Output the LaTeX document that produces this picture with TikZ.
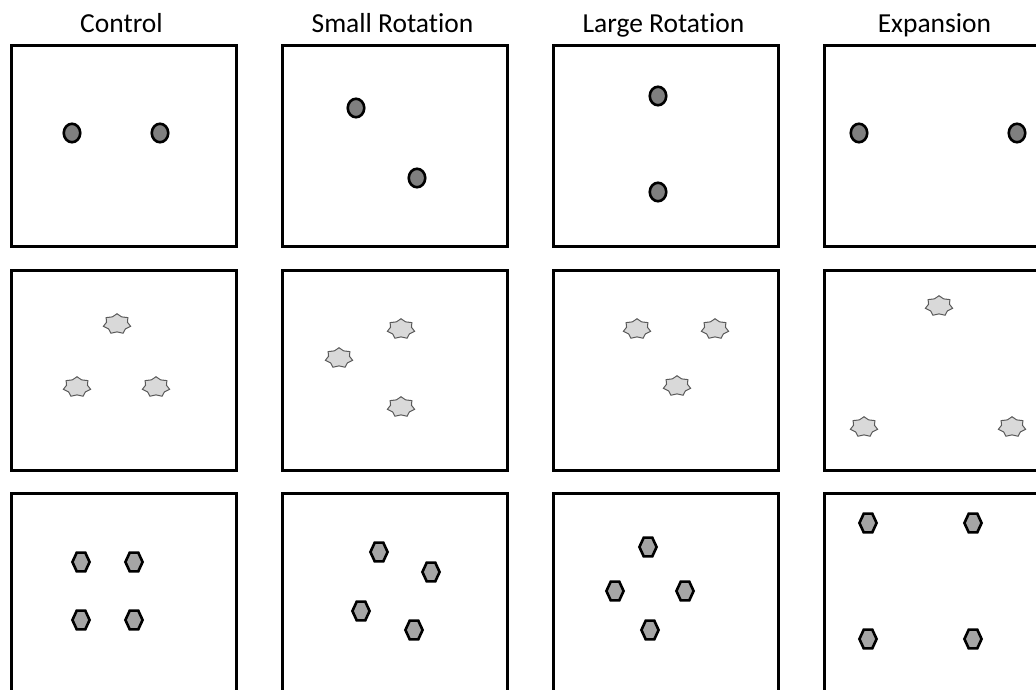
\documentclass[tikz,border=0pt]{standalone}
\usepackage{fontspec}
\setmainfont{Carlito}[Ligatures=NoCommon]
\usetikzlibrary{shapes.geometric}
\definecolor{dotgray}{HTML}{7F7F7F}
\definecolor{hexgray}{HTML}{A5A5A5}
\definecolor{starfill}{HTML}{D9D9D9}
\definecolor{starline}{HTML}{5A5A5A}
\tikzset{
  panel/.style={draw=black, line width=3pt, minimum width=225pt, minimum height=200pt,
                inner sep=0pt, outer sep=0pt, anchor=north west},
  heading/.style={font=\fontsize{27.5}{32}\selectfont, anchor=base, inner sep=0pt},
  dot/.style={ellipse, draw=black, line width=2.6pt, fill=dotgray,
              minimum width=16.5pt, minimum height=18.5pt, inner sep=0pt},
  spark/.style={star, star points=7, star point ratio=1.3, draw=starline, line width=1pt,
                fill=starfill, minimum size=20.5pt, inner sep=0pt, xscale=1.36},
  hexa/.style={regular polygon, regular polygon sides=6, draw=black, line width=2.6pt,
               fill=hexgray, minimum size=21.5pt, inner sep=0pt, xscale=0.8},
}
\begin{document}
\begin{tikzpicture}[x=1pt, y=-1pt]
  \useasboundingbox (0,0) rectangle (1036,690);
  \clip (0,0) rectangle (1036,690);

  % column headings
  \node[heading] (hControl) at (121.5,33) {Control};
  \node[heading] (hSmall)   at (392.5,33) {Small Rotation};
  \node[heading] (hLarge)   at (663.5,33) {Large Rotation};
  \node[heading] (hExp)     at (934.5,33) {Expansion};

  % panels: rows at 46 / 270 / 493, columns at 11 / 282 / 553 / 824
  \node[panel] (p11) at (11,46) {};
  \node[panel] (p12) at (282,46) {};
  \node[panel] (p13) at (553,46) {};
  \node[panel] (p14) at (824,46) {};
  \node[panel] (p21) at (11,270) {};
  \node[panel] (p22) at (282,270) {};
  \node[panel] (p23) at (553,270) {};
  \node[panel] (p24) at (824,270) {};
  \node[panel] (p31) at (11,493) {};
  \node[panel] (p32) at (282,493) {};
  \node[panel] (p33) at (553,493) {};
  \node[panel] (p34) at (824,493) {};

  % row 1: two dots
  \node[dot] (d11a) at (72,133) {};
  \node[dot] (d11b) at (160,133) {};
  \node[dot] (d12a) at (356,108) {};
  \node[dot] (d12b) at (417,178) {};
  \node[dot] (d13a) at (658,96) {};
  \node[dot] (d13b) at (658,192) {};
  \node[dot] (d14a) at (859,133) {};
  \node[dot] (d14b) at (1017,133) {};

  % row 2: three stars
  \node[spark] (s21a) at (117,324) {};
  \node[spark] (s21b) at (77,387) {};
  \node[spark] (s21c) at (156,387) {};
  \node[spark] (s22a) at (401,329) {};
  \node[spark] (s22b) at (339,358) {};
  \node[spark] (s22c) at (401,407) {};
  \node[spark] (s23a) at (637,329) {};
  \node[spark] (s23b) at (715,329) {};
  \node[spark] (s23c) at (677,386) {};
  \node[spark] (s24a) at (939,306) {};
  \node[spark] (s24b) at (864,427) {};
  \node[spark] (s24c) at (1012,427) {};

  % row 3: four hexagons
  \node[hexa] (x31a) at (81,562) {};
  \node[hexa] (x31b) at (134,562) {};
  \node[hexa] (x31c) at (81,620) {};
  \node[hexa] (x31d) at (134,620) {};
  \node[hexa] (x32a) at (379,552) {};
  \node[hexa] (x32b) at (431,572) {};
  \node[hexa] (x32c) at (361,611) {};
  \node[hexa] (x32d) at (414,630) {};
  \node[hexa] (x33a) at (648,547) {};
  \node[hexa] (x33b) at (615,591) {};
  \node[hexa] (x33c) at (685,591) {};
  \node[hexa] (x33d) at (650,630) {};
  \node[hexa] (x34a) at (868,523) {};
  \node[hexa] (x34b) at (973,523) {};
  \node[hexa] (x34c) at (868,639) {};
  \node[hexa] (x34d) at (973,639) {};
\end{tikzpicture}
\end{document}
